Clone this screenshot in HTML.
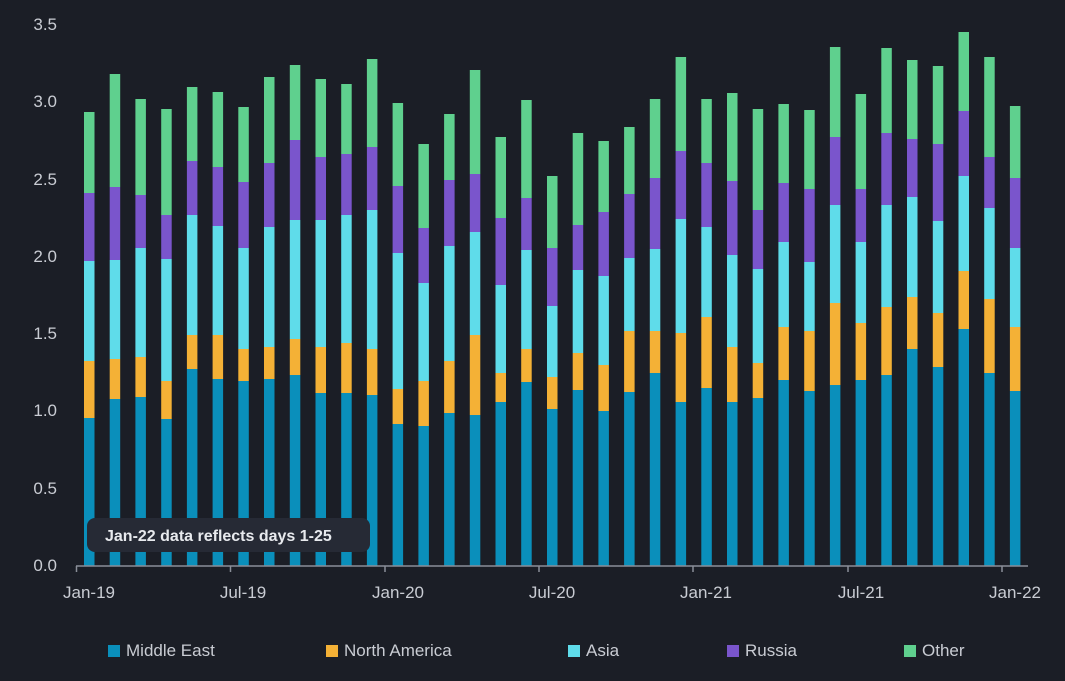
<!DOCTYPE html><html><head><meta charset="utf-8"><style>
body{margin:0;background:#1b1e26;}
svg{display:block;font-family:"Liberation Sans",sans-serif;}
</style></head><body>
<svg width="1065" height="681" viewBox="0 0 1065 681" xmlns="http://www.w3.org/2000/svg">
<rect width="1065" height="681" fill="#1b1e26"/>
<g fill="#c9ccd3" font-size="17" text-anchor="end">
<text x="57" y="571">0.0</text><text x="57" y="494">0.5</text><text x="57" y="416">1.0</text><text x="57" y="339">1.5</text><text x="57" y="262">2.0</text><text x="57" y="185">2.5</text><text x="57" y="107">3.0</text><text x="57" y="30">3.5</text>
</g>
<g id="bars"></g>
<line x1="76" y1="566" x2="1028" y2="566" stroke="#8a8e98" stroke-width="1.5"/>
<g stroke="#8a8e98" stroke-width="1.5">
<line x1="76.5" y1="566" x2="76.5" y2="572"/><line x1="230.5" y1="566" x2="230.5" y2="572"/><line x1="385" y1="566" x2="385" y2="572"/><line x1="539" y1="566" x2="539" y2="572"/><line x1="693" y1="566" x2="693" y2="572"/><line x1="848" y1="566" x2="848" y2="572"/><line x1="1002" y1="566" x2="1002" y2="572"/>
</g>
<g fill="#c9ccd3" font-size="17" text-anchor="middle">
<text x="89" y="598">Jan-19</text><text x="243" y="598">Jul-19</text><text x="398" y="598">Jan-20</text><text x="552" y="598">Jul-20</text><text x="706" y="598">Jan-21</text><text x="861" y="598">Jul-21</text><text x="1015" y="598">Jan-22</text>
</g>
<rect x="87" y="518" width="283" height="34" rx="8" fill="#262a35"/>
<text x="105" y="541" fill="#e8eaee" font-size="16" font-weight="bold">Jan-22 data reflects days 1-25</text>
<g font-size="17" fill="#c9ccd3">
<rect x="108" y="645" width="12" height="12" fill="#0a8fbb"/><text x="126" y="656">Middle East</text>
<rect x="326" y="645" width="12" height="12" fill="#f4b136"/><text x="344" y="656">North America</text>
<rect x="568" y="645" width="12" height="12" fill="#5fdcea"/><text x="586" y="656">Asia</text>
<rect x="727" y="645" width="12" height="12" fill="#7a55cc"/><text x="745" y="656">Russia</text>
<rect x="904" y="645" width="12" height="12" fill="#5fd08e"/><text x="922" y="656">Other</text>
</g>
</svg>
<script>
const d=[[418,361,261,193,112],[399,359,260,187,74],[397,357,248,195,99],[419,381,259,215,109],[369,335,215,161,87],[379,335,226,167,92],[381,349,248,182,107],[379,347,227,163,77],[375,339,220,140,65],[393,347,220,157,79],[393,343,215,154,84],[395,349,210,147,59],[424,389,253,186,103],[426,381,283,228,144],[413,361,246,180,114],[415,335,232,174,70],[402,373,285,218,137],[382,349,250,198,100],[409,377,306,248,176],[390,353,270,225,133],[411,365,276,212,141],[392,331,258,194,127],[373,331,249,178,99],[402,333,219,151,57],[388,317,227,163,99],[402,347,255,181,93],[398,363,269,210,109],[380,327,242,183,104],[391,331,262,189,110],[385,303,205,137,47],[380,323,242,189,94],[375,307,205,133,48],[349,297,197,139,60],[367,313,221,144,66],[329,271,176,111,32],[373,299,208,157,57],[391,327,248,178,106]];
const c=["#0a8fbb","#f4b136","#5fdcea","#7a55cc","#5fd08e"];
let s="";
d.forEach((b,i)=>{const x=84+i*25.72;let prev=566;b.forEach((t,j)=>{s+=`<rect x="${x.toFixed(1)}" y="${t}" width="10.5" height="${prev-t}" fill="${c[j]}"/>`;prev=t;});});
document.getElementById("bars").innerHTML=s;
</script>
</body></html>
